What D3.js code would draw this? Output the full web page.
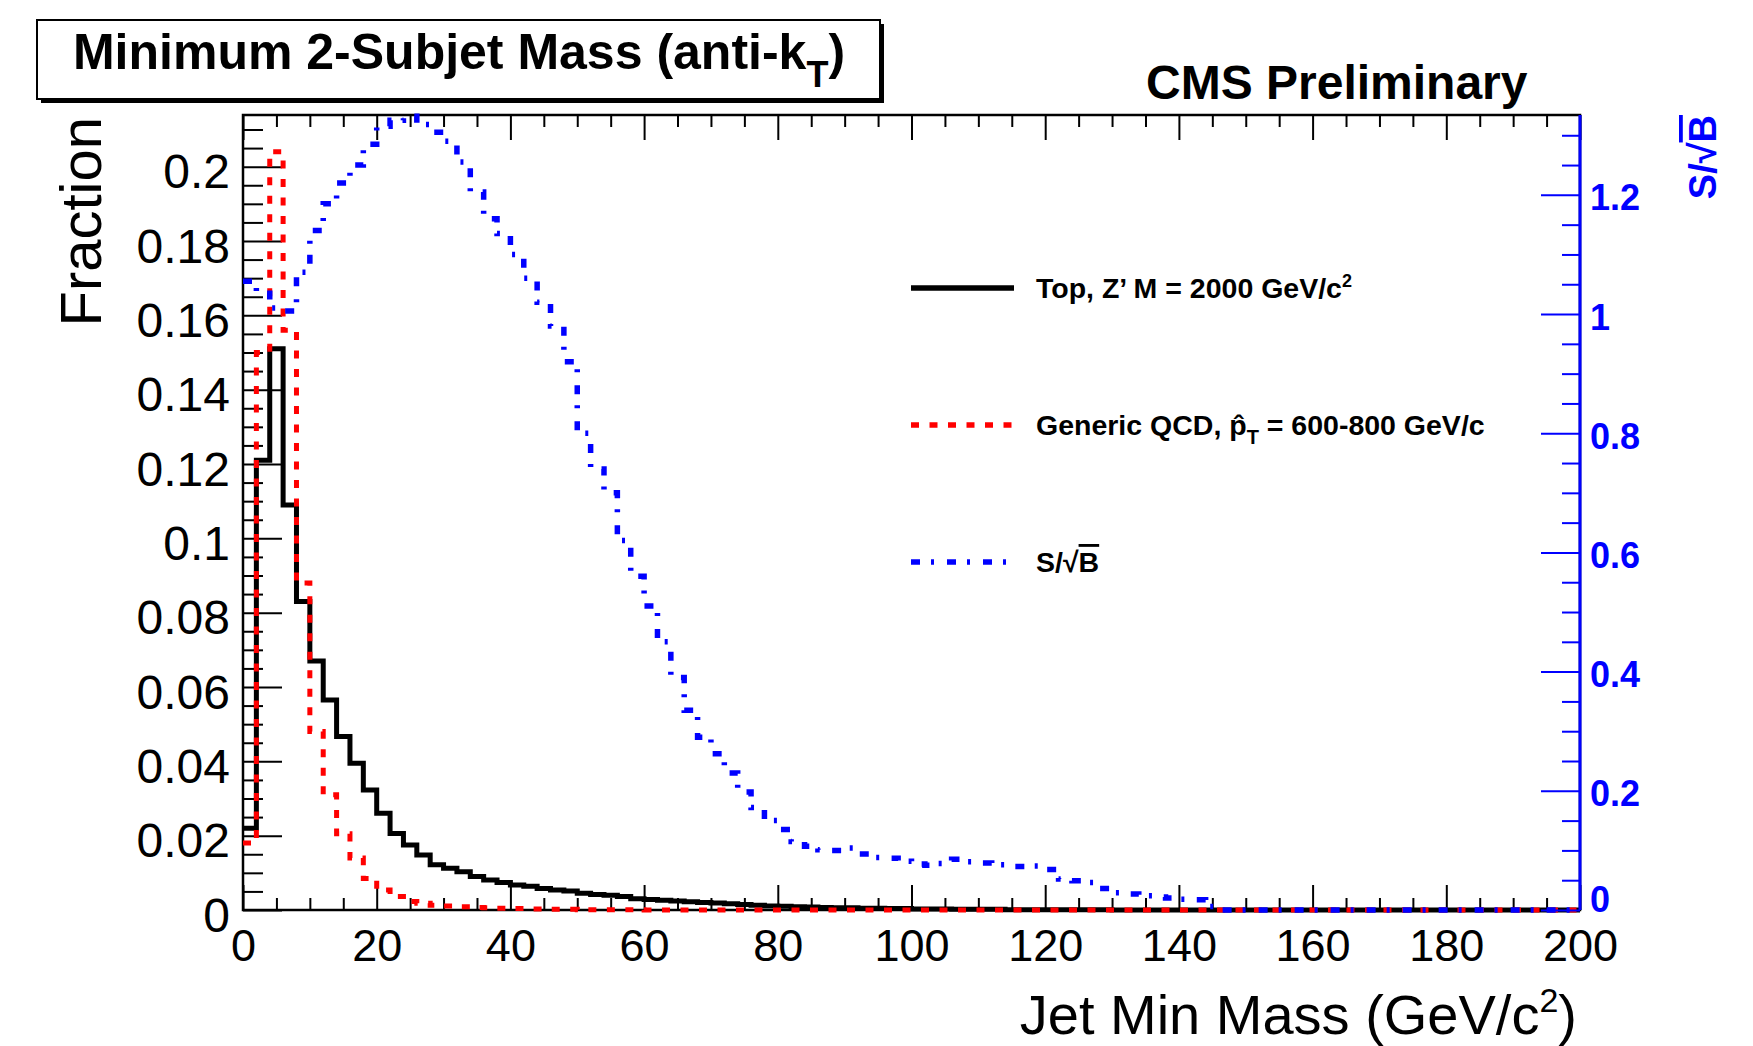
<!DOCTYPE html>
<html>
<head>
<meta charset="utf-8">
<script src="https://cdn.jsdelivr.net/npm/d3@7"></script>
<style>
  body { margin: 0; background: #fff; }
  text { font-family: "Liberation Sans", Arial, Helvetica, sans-serif; }
</style>
</head>
<body>
<script>
// 100 bins of 2 GeV/c^2 between 0 and 200
var binWidth = 2;

// Top, Z' M = 2000 GeV/c^2 (fraction per bin)
var topSignal = [
  0.022, 0.121, 0.151, 0.109, 0.083, 0.067, 0.0565, 0.0467, 0.0395, 0.0323,
  0.026, 0.0206, 0.0175, 0.0148, 0.0122, 0.0112, 0.0103, 0.009, 0.0081, 0.0074,
  0.0067, 0.0064, 0.0058, 0.0054, 0.0051, 0.0045, 0.0042, 0.004, 0.0036, 0.003,
  0.0028, 0.0026, 0.0024, 0.0022, 0.002, 0.0019, 0.0017, 0.0015, 0.0013, 0.0011,
  0.001, 0.0009, 0.0008, 0.0007, 0.0006, 0.0006, 0.0005, 0.0005, 0.0004, 0.0004,
  0.0003, 0.0003, 0.0003, 0.0002, 0.0002, 0.0002, 0.0002, 0.0001, 0.0001, 0.0001,
  0.0001, 0.0001, 0.0001, 0.0001, 0.0001, 0, 0, 0, 0, 0,
  0, 0, 0, 0, 0, 0, 0, 0, 0, 0,
  0, 0, 0, 0, 0, 0, 0, 0, 0, 0,
  0, 0, 0, 0, 0, 0, 0, 0, 0, 0
];

// Generic QCD, pT-hat = 600-800 GeV/c
var qcdBackground = [
  0.018, 0.150, 0.204, 0.156, 0.088, 0.048, 0.031, 0.0205, 0.014, 0.0085,
  0.0054, 0.0036, 0.0023, 0.0018, 0.0013, 0.0011, 0.0009, 0.0007, 0.0006, 0.0005,
  0.0004, 0.0003, 0.0003, 0.0002, 0.0002, 0.0001, 0.0001, 0.0001, 0.0001, 0.0001,
  0, 0, 0, 0, 0, 0, 0, 0, 0, 0,
  0, 0, 0, 0, 0, 0, 0, 0, 0, 0,
  0, 0, 0, 0, 0, 0, 0, 0, 0, 0,
  0, 0, 0, 0, 0, 0, 0, 0, 0, 0,
  0, 0, 0, 0, 0, 0, 0, 0, 0, 0,
  0, 0, 0, 0, 0, 0, 0, 0, 0, 0,
  0, 0, 0, 0, 0, 0, 0, 0, 0, 0
];

// S/sqrt(B), read on the right axis
var sOverSqrtB = [
  1.055, 1.035, 1.01, 1.005, 1.07, 1.14, 1.185, 1.22, 1.25, 1.285,
  1.315, 1.325, 1.332, 1.318, 1.305, 1.29, 1.255, 1.205, 1.16, 1.135,
  1.10, 1.06, 1.02, 0.98, 0.92, 0.80, 0.74, 0.70, 0.62, 0.56,
  0.51, 0.45, 0.39, 0.335, 0.29, 0.262, 0.23, 0.198, 0.172, 0.15,
  0.135, 0.115, 0.107, 0.101, 0.100, 0.104, 0.094, 0.088, 0.087, 0.082,
  0.077, 0.075, 0.078, 0.085, 0.081, 0.079, 0.076, 0.073, 0.073, 0.074,
  0.068, 0.052, 0.049, 0.046, 0.036, 0.029, 0.027, 0.024, 0.022, 0.020,
  0.018, 0.017, 0.006, 0, 0, 0, 0, 0, 0, 0,
  0, 0, 0, 0, 0, 0, 0, 0, 0, 0,
  0, 0, 0, 0, 0, 0, 0, 0, 0, 0
];

var xTicks = [0, 20, 40, 60, 80, 100, 120, 140, 160, 180, 200];
var fracTicks = [0, 0.02, 0.04, 0.06, 0.08, 0.1, 0.12, 0.14, 0.16, 0.18, 0.2];
var fracLabels = ["0", "0.02", "0.04", "0.06", "0.08", "0.1", "0.12", "0.14", "0.16", "0.18", "0.2"];
var sbTicks = [0, 0.2, 0.4, 0.6, 0.8, 1, 1.2];
var sbLabels = ["0", "0.2", "0.4", "0.6", "0.8", "1", "1.2"];

const w = 1753;
const h = 1046;
const padLeft = 243, padRight = 1580, padTop = 115, padBottom = 910;

var xScale = d3.scaleLinear().domain([0, 200]).range([padLeft, padRight]);
var yScale = d3.scaleLinear().domain([0, 0.2139]).range([padBottom, padTop]);
var y2Scale = d3.scaleLinear().domain([0, 1.334]).range([padBottom, padTop]);

var svg = d3.select('body').append('svg')
  .attr('width', w)
  .attr('height', h)
  .style('background', '#fff');

// minor ticks for each axis
var xMinor = d3.range(0, 201, 5).filter(d => d % 20 !== 0);
var fracMinor = d3.range(0, 43).map(d => d * 0.005).filter((d, i) => i % 4 !== 0);
var sbMinor = d3.range(0, 27).map(d => d * 0.05).filter((d, i) => i % 4 !== 0);

function cleanAxis(g) {
  g.select('.domain').remove();
  g.selectAll('line').attr('stroke-width', 2);
}

// bottom axis
svg.append('g')
  .attr('transform', 'translate(0,' + padBottom + ')')
  .call(d3.axisBottom(xScale).tickValues(xTicks).tickSize(-25).tickPadding(19).tickFormat(d3.format('d')))
  .call(cleanAxis)
  .call(g => g.selectAll('text')
    .attr('fill', '#000')
    .style('font-size', '45px'));

svg.append('g')
  .attr('transform', 'translate(0,' + padBottom + ')')
  .call(d3.axisBottom(xScale).tickValues(xMinor).tickSize(-12).tickFormat(''))
  .call(cleanAxis);

// top axis (ticks only)
svg.append('g')
  .attr('transform', 'translate(0,' + padTop + ')')
  .call(d3.axisTop(xScale).tickValues(xTicks).tickSize(-25).tickFormat(''))
  .call(cleanAxis);
svg.append('g')
  .attr('transform', 'translate(0,' + padTop + ')')
  .call(d3.axisTop(xScale).tickValues(xMinor).tickSize(-12).tickFormat(''))
  .call(cleanAxis);

// left axis
svg.append('g')
  .attr('transform', 'translate(' + padLeft + ',0)')
  .call(d3.axisLeft(yScale).tickValues(fracTicks).tickSize(-39).tickPadding(13)
    .tickFormat((d, i) => fracLabels[i]))
  .call(cleanAxis)
  .call(g => g.selectAll('text')
    .attr('fill', '#000')
    .attr('dy', '0.44em')
    .style('font-size', '48px'));
svg.append('g')
  .attr('transform', 'translate(' + padLeft + ',0)')
  .call(d3.axisLeft(yScale).tickValues(fracMinor).tickSize(-20).tickFormat(''))
  .call(cleanAxis);

// frame
svg.append('rect')
  .attr('x', padLeft)
  .attr('y', padTop)
  .attr('width', padRight - padLeft)
  .attr('height', padBottom - padTop)
  .attr('fill', 'none')
  .attr('stroke', '#000')
  .attr('stroke-width', 2.5);

// histograms drawn as steps, like ROOT's HIST option
function histPoints(values) {
  var pts = [];
  values.forEach(function(v, i) {
    pts.push([i * binWidth, v]);
    pts.push([(i + 1) * binWidth, v]);
  });
  return pts;
}

var lineL = d3.line().x(d => xScale(d[0])).y(d => yScale(d[1]));
var lineR = d3.line().x(d => xScale(d[0])).y(d => y2Scale(d[1]));

svg.append('path')
  .attr('d', lineL(histPoints(topSignal)))
  .attr('fill', 'none')
  .attr('stroke', '#000')
  .attr('stroke-width', 5);

svg.append('path')
  .attr('d', lineL(histPoints(qcdBackground)))
  .attr('fill', 'none')
  .attr('stroke', '#ff0000')
  .attr('stroke-width', 5)
  .attr('stroke-dasharray', '8 10.5');

svg.append('path')
  .attr('d', lineR(histPoints(sOverSqrtB)))
  .attr('fill', 'none')
  .attr('stroke', '#0000ff')
  .attr('stroke-width', 5.5)
  .attr('stroke-dasharray', '9 11 3 13');

// right axis for S/sqrt(B)
svg.append('g')
  .attr('transform', 'translate(' + padRight + ',0)')
  .call(d3.axisRight(y2Scale).tickValues(sbTicks).tickSize(-39).tickPadding(10)
    .tickFormat((d, i) => sbLabels[i]))
  .call(g => g.select('.domain').remove())
  .call(g => g.selectAll('line').attr('stroke', '#0000ff').attr('stroke-width', 2))
  .call(g => g.selectAll('text')
    .attr('fill', '#0000ff')
    .attr('dy', d => d === 0 ? '0.05em' : '0.42em')
    .style('font-size', '36px')
    .style('font-weight', 'bold'));
svg.append('g')
  .attr('transform', 'translate(' + padRight + ',0)')
  .call(d3.axisRight(y2Scale).tickValues(sbMinor).tickSize(-18).tickFormat(''))
  .call(g => g.select('.domain').remove())
  .call(g => g.selectAll('line').attr('stroke', '#0000ff').attr('stroke-width', 2));
svg.append('line')
  .attr('x1', padRight).attr('x2', padRight)
  .attr('y1', padTop).attr('y2', padBottom)
  .attr('stroke', '#0000ff')
  .attr('stroke-width', 3);

// axis titles
svg.append('text')
  .attr('transform', 'translate(101,117)rotate(-90)')
  .attr('text-anchor', 'end')
  .style('font-size', '58px')
  .text('Fraction');

var xt = svg.append('text')
  .attr('x', 1577)
  .attr('y', 1034)
  .attr('text-anchor', 'end')
  .style('font-size', '56px');
xt.append('tspan').text('Jet Min Mass (GeV/c');
xt.append('tspan').attr('dy', -22).style('font-size', '34px').text('2');
xt.append('tspan').attr('dy', 22).text(')');

var rt = svg.append('text')
  .attr('transform', 'translate(1716,115)rotate(-90)')
  .attr('text-anchor', 'end')
  .attr('fill', '#0000ff')
  .style('font-size', '38px')
  .style('font-weight', 'bold');
rt.append('tspan').text('S/√');
rt.append('tspan').style('text-decoration', 'overline').text('B');

// title box
svg.append('rect')
  .attr('x', 41).attr('y', 24)
  .attr('width', 843).attr('height', 79)
  .attr('fill', '#000');
svg.append('rect')
  .attr('x', 37).attr('y', 20)
  .attr('width', 843).attr('height', 79)
  .attr('fill', '#fff')
  .attr('stroke', '#000')
  .attr('stroke-width', 2);
var tt = svg.append('text')
  .attr('x', 459)
  .attr('y', 69)
  .attr('text-anchor', 'middle')
  .style('font-size', '50px')
  .style('font-weight', 'bold');
tt.append('tspan').text('Minimum 2-Subjet Mass (anti-k');
tt.append('tspan').attr('dy', 18).style('font-size', '36px').text('T');
tt.append('tspan').attr('dy', -18).text(')');

svg.append('text')
  .attr('x', 1146)
  .attr('y', 99)
  .style('font-size', '48px')
  .style('font-weight', 'bold')
  .text('CMS Preliminary');

// legend
var legendY = [288, 425, 562];
var legendX1 = 911, legendX2 = 1014, legendTextX = 1036;

svg.append('line')
  .attr('x1', legendX1).attr('x2', legendX2)
  .attr('y1', legendY[0]).attr('y2', legendY[0])
  .attr('stroke', '#000').attr('stroke-width', 5.5);
svg.append('line')
  .attr('x1', legendX1).attr('x2', legendX2)
  .attr('y1', legendY[1]).attr('y2', legendY[1])
  .attr('stroke', '#ff0000').attr('stroke-width', 5.5)
  .attr('stroke-dasharray', '8 10.5');
svg.append('line')
  .attr('x1', legendX1).attr('x2', legendX2)
  .attr('y1', legendY[2]).attr('y2', legendY[2])
  .attr('stroke', '#0000ff').attr('stroke-width', 5.5)
  .attr('stroke-dasharray', '9 11 3 13');

function legendText(y) {
  return svg.append('text')
    .attr('x', legendTextX)
    .attr('y', y + 10)
    .style('font-size', '28.5px')
    .style('font-weight', 'bold');
}

var l1 = legendText(legendY[0]);
l1.append('tspan').text('Top, Z’ M = 2000 GeV/c');
l1.append('tspan').attr('dy', -11).style('font-size', '18px').text('2');

var l2 = legendText(legendY[1]);
l2.append('tspan').text('Generic QCD, p̂');
l2.append('tspan').attr('dy', 9).style('font-size', '20px').text('T');
l2.append('tspan').attr('dy', -9).text(' = 600-800 GeV/c');

var l3 = legendText(legendY[2]);
l3.append('tspan').text('S/√');
l3.append('tspan').style('text-decoration', 'overline').text('B');
</script>
</body>
</html>
